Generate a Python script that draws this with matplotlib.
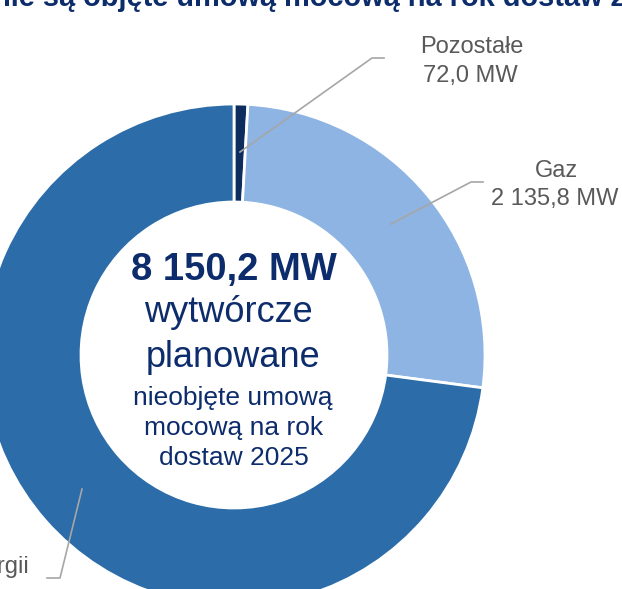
import matplotlib
matplotlib.use("Agg")
import matplotlib.pyplot as plt

plt.rcParams['font.family'] = ['Liberation Sans', 'DejaVu Sans']

# Data
categories = ["Pozostałe", "Gaz", "Magazyny energii"]
values = [72.0, 2135.8, 5942.4]
value_labels = ["72,0 MW", "2 135,8 MW", "5 942,4 MW"]
total_label = "8 150,2 MW"
colors = ["#0C2D5E", "#8DB4E2", "#2B6CA9"]

W, H = 622, 589
fig = plt.figure(figsize=(W / 100, H / 100), dpi=100)
ax = fig.add_axes([0, 0, 1, 1])

def Y(py):
    return H - py

cx, cy = 234, Y(355)
R, ring = 251, 98

ax.pie(values, startangle=90, counterclock=False, colors=colors,
       radius=R, center=(cx, cy),
       wedgeprops=dict(width=ring, edgecolor='white', linewidth=2.0))

ax.set_xlim(0, W)
ax.set_ylim(0, H)
ax.set_aspect('equal')
ax.axis('off')

navy = "#0D2C6C"
gray = "#595959"
line_c = "#A6A6A6"

# Title (cropped at the top of the picture)
ax.text(-7, Y(6), "nie są objęte umową mocową na rok dostaw 2025",
        ha='left', va='baseline', fontsize=20.9, fontweight='bold', color=navy)

# Centre text
ax.text(cx, Y(280), total_label, ha='center', va='baseline', fontsize=27.5,
        fontweight='bold', color=navy)
ax.text(cx - 6, Y(322), "wytwórcze", ha='center', va='baseline', fontsize=26, color=navy)
ax.text(cx - 1, Y(367), "planowane", ha='center', va='baseline', fontsize=26, color=navy)
ax.text(cx - 1, Y(405), "nieobjęte umową", ha='center', va='baseline', fontsize=19, color=navy)
ax.text(cx, Y(435), "mocową na rok", ha='center', va='baseline', fontsize=19, color=navy)
ax.text(cx, Y(465), "dostaw 2025", ha='center', va='baseline', fontsize=19, color=navy)

# Labels with leader lines
lw = 1.2
ax.plot([240, 372, 384], [Y(152), Y(58), Y(58)], color=line_c, lw=lw)
ax.text(472, Y(53), categories[0], ha='center', va='baseline', fontsize=17, color=gray)
ax.text(470, Y(82), value_labels[0], ha='center', va='baseline', fontsize=17, color=gray)

ax.plot([391, 471, 483], [Y(224), Y(182), Y(182)], color=line_c, lw=lw)
ax.text(556, Y(177), categories[1], ha='center', va='baseline', fontsize=17, color=gray)
ax.text(555, Y(205), value_labels[1], ha='center', va='baseline', fontsize=17, color=gray)

ax.plot([82, 60, 47], [Y(489), Y(578), Y(578)], color=line_c, lw=lw)
ax.text(29, Y(573), categories[2], ha='right', va='baseline', fontsize=17, color=gray)

fig.savefig("out.png", dpi=100)
